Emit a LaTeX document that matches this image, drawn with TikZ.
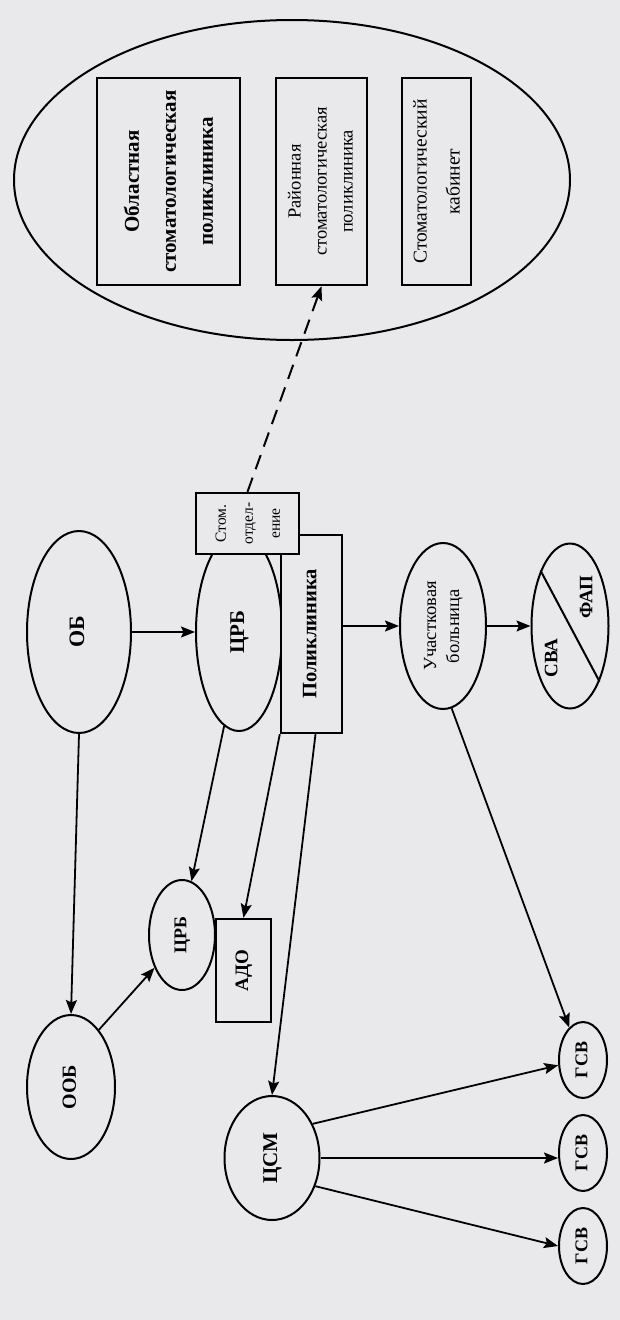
\documentclass[tikz,border=0pt]{standalone}
\usepackage{fontspec}
\usepackage{graphicx}
\setmainfont{Liberation Serif}
\usetikzlibrary{shapes.geometric,arrows.meta}
\definecolor{bg}{RGB}{233,233,235}
\newcommand{\vt}[3]{\fontsize{#1}{#2}\selectfont\rotatebox{90}{\begin{tabular}{@{}c@{}}#3\end{tabular}}}
\tikzset{
  ell/.style={ellipse, draw, line width=2pt, inner sep=0pt, fill=bg},
  rbox/.style={rectangle, draw, line width=2.4pt, inner sep=0pt, fill=bg},
  arr/.style={line width=1.8pt, -{Stealth[length=14pt,width=11pt,inset=2.5pt]}},
  dasharr/.style={line width=2pt, dash pattern=on 15pt off 9pt, -{Stealth[length=14pt,width=11pt,inset=2.5pt]}}
}
\begin{document}
\begin{tikzpicture}[x=1pt,y=-1pt]
\fill[bg] (0,0) rectangle (620,1320);
\useasboundingbox (0,0) rectangle (620,1320);

% big ellipse with dental institutions
\node[ell, minimum width=556pt, minimum height=320pt] (big) at (292,180) {};
\node[rbox, minimum width=143pt, minimum height=207pt] (obl) at (168.5,181.5)
  {\bfseries\vt{21}{37}{Областная\\стоматологическая\\поликлиника}};
\node[rbox, minimum width=91pt, minimum height=207pt] (ray) at (321.5,181.5)
  {\vt{18.5}{26}{Районная\\стоматологическая\\поликлиника}};
\node[rbox, minimum width=69pt, minimum height=207pt] (kab) at (436.5,181.5)
  {\vt{19.5}{33}{Стоматологический\\кабинет}};

% middle row
\node[ell, minimum width=104pt, minimum height=202pt] (ob) at (79,632)
  {\bfseries\vt{22}{26}{ОБ}};
\node[ell, minimum width=86pt, minimum height=198pt] (crb1) at (239,632)
  {\bfseries\vt{21}{25}{ЦРБ}};
\node[rbox, minimum width=61pt, minimum height=198pt] (polik) at (311.5,634)
  {\bfseries\vt{20.5}{24}{Поликлиника}};
\node[rbox, minimum width=103pt, minimum height=61pt] (stom) at (247.5,523.5)
  {\vt{15.5}{27}{Стом.\\отдел-\\ение}};
\node[ell, minimum width=86pt, minimum height=166pt] (uch) at (443,626)
  {\vt{18.5}{23}{Участковая\\больница}};
\node[ell, minimum width=77pt, minimum height=165pt] (sva) at (570,626) {};
\draw[line width=2pt] (sva.118) -- (sva.-62);
\node[font=\bfseries] (svat) at (553,658) {\vt{19}{22}{СВА}};
\node[font=\bfseries] (fapt) at (588,597) {\vt{19}{22}{ФАП}};

% lower part
\node[ell, minimum width=88pt, minimum height=144pt] (oob) at (71,1087)
  {\bfseries\vt{20}{24}{ООБ}};
\node[ell, minimum width=66pt, minimum height=110pt] (crb2) at (182,935)
  {\bfseries\vt{18}{22}{ЦРБ}};
\node[rbox, minimum width=55pt, minimum height=103pt] (ado) at (243.5,970.5)
  {\bfseries\vt{19}{23}{АДО}};
\node[ell, minimum width=95pt, minimum height=124pt] (csm) at (272,1158)
  {\bfseries\vt{21}{25}{ЦСМ}};
\node[ell, minimum width=48pt, minimum height=76pt] (g1) at (583,1060)
  {\bfseries\vt{18}{22}{ГСВ}};
\node[ell, minimum width=48pt, minimum height=76pt] (g2) at (583,1153)
  {\bfseries\vt{18}{22}{ГСВ}};
\node[ell, minimum width=48pt, minimum height=76pt] (g3) at (583,1246)
  {\bfseries\vt{18}{22}{ГСВ}};

% connectors
\draw[dasharr] (stom.north) -- (ray.south);
\draw[arr] (ob.east) -- (ob.east -| crb1.west);
\draw[arr] (polik.east |- uch.west) -- (uch.west);
\draw[arr] (uch.east) -- (sva.west);
\draw[arr] (ob.south) -- (oob.north);
\draw[arr] (oob.64) -- (crb2.230);
\draw[arr] (crb1.261) -- (crb2.80);
\draw[arr] (polik.south west) -- (ado.north);
\draw[arr] ([xshift=4pt]polik.south) -- (csm.north);
\draw[arr] (csm.40) -- (g1.192);
\draw[arr] (csm.east) -- (csm.east -| g2.west);
\draw[arr] (csm.-33) -- (g3.west);
\draw[arr] (uch.276) -- (g1.113);
\end{tikzpicture}
\end{document}
